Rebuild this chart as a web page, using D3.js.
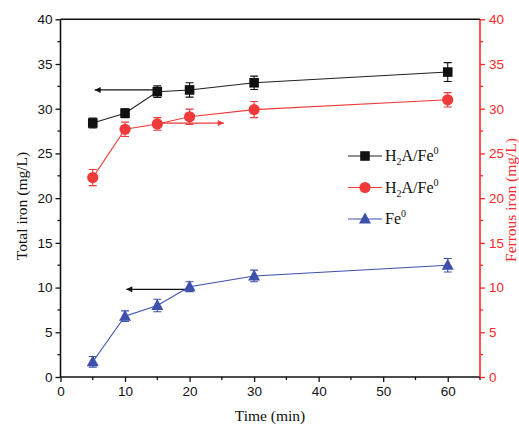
<!DOCTYPE html>
<html><head><meta charset="utf-8">
<script src="https://cdn.jsdelivr.net/npm/d3@7"></script>
<style>
  body { margin: 0; background: #fff; }
  svg { display: block; }
</style>
</head><body>
<svg id="chart" width="519" height="428"></svg>
<script>
// Sampling times (min)
const times = [5, 10, 15, 20, 30, 60];
// Total iron with H2A/Fe0 (left axis)
const totalH2A = [28.4, 29.5, 31.9, 32.1, 32.9, 34.1];
const totalH2AErr = [0.55, 0.5, 0.65, 0.8, 0.75, 1.05];
// Ferrous iron with H2A/Fe0 (right axis)
const ferrousH2A = [22.3, 27.7, 28.3, 29.1, 29.9, 31.0];
const ferrousH2AErr = [0.9, 0.8, 0.7, 0.85, 0.9, 0.8];
// Total iron with Fe0 alone (left axis)
const totalFe0 = [1.7, 6.8, 8.0, 10.1, 11.3, 12.5];
const totalFe0Err = [0.6, 0.6, 0.7, 0.55, 0.65, 0.75];

const xTicks = [0, 10, 20, 30, 40, 50, 60];
const xMinorTicks = [5, 15, 25, 35, 45, 55, 65];
const yTicks = [0, 5, 10, 15, 20, 25, 30, 35, 40];
const yMinorTicks = [2.5, 7.5, 12.5, 17.5, 22.5, 27.5, 32.5, 37.5];

// Arrows pointing each curve to its axis
const arrows = [
  { from: 15, to: 5.3, y: 32.1, color: "#111" },
  { from: 15.6, to: 25.3, y: 28.4, color: "#f03a3a" },
  { from: 20, to: 10.2, y: 9.8, color: "#111" }
];

const BLACK = "#111", RED = "#f03a3a", BLUE = "#3d50ac", AXRED = "#ff2a2a";

const svg = d3.select("#chart");
const x = d3.scaleLinear().domain([0, 65]).range([60.5, 480]);
const yL = d3.scaleLinear().domain([0, 40]).range([377, 19.3]);
const yR = d3.scaleLinear().domain([0, 40]).range([377, 19.3]);

const sans = "'Liberation Sans', Arial, sans-serif";
const serif = "'Liberation Serif', 'Times New Roman', serif";

// Arrow markers
const defs = svg.append("defs");
[["arrBlack", BLACK], ["arrRed", RED]].forEach(([id, c]) => {
  defs.append("marker").attr("id", id)
    .attr("viewBox", "0 0 10 10").attr("refX", 10).attr("refY", 5)
    .attr("markerWidth", 8).attr("markerHeight", 6).attr("markerUnits", "userSpaceOnUse")
    .attr("orient", "auto")
    .append("path").attr("d", "M0,0L10,5L0,10Z").attr("fill", c);
});

// Bottom axis
const gx = svg.append("g").attr("transform", `translate(0,${yL(0)})`)
  .call(d3.axisBottom(x).tickValues(xTicks).tickSize(5).tickPadding(4).tickFormat(d3.format("d")));
gx.append("g").selectAll("line").data(xMinorTicks).join("line")
  .attr("x1", d => x(d)).attr("x2", d => x(d)).attr("y1", 0).attr("y2", 3)
  .attr("stroke", BLACK).attr("stroke-width", 1.3);

// Left axis
const gyL = svg.append("g").attr("transform", `translate(${x(0)},0)`)
  .call(d3.axisLeft(yL).tickValues(yTicks).tickSize(5).tickPadding(3).tickFormat(d3.format("d")));
gyL.append("g").selectAll("line").data(yMinorTicks).join("line")
  .attr("y1", d => yL(d)).attr("y2", d => yL(d)).attr("x1", 0).attr("x2", -3)
  .attr("stroke", BLACK).attr("stroke-width", 1.3);

// Right axis (ferrous iron)
const gyR = svg.append("g").attr("transform", `translate(${x(65)},0)`)
  .call(d3.axisRight(yR).tickValues(yTicks).tickSize(5).tickPadding(4).tickFormat(d3.format("d")));
gyR.append("g").selectAll("line").data(yMinorTicks).join("line")
  .attr("y1", d => yR(d)).attr("y2", d => yR(d)).attr("x1", 0).attr("x2", 3)
  .attr("stroke", AXRED).attr("stroke-width", 1.3);

[gx, gyL].forEach(g => {
  g.select(".domain").attr("stroke", BLACK).attr("stroke-width", 1.6);
  g.selectAll(".tick line").attr("stroke", BLACK).attr("stroke-width", 1.3);
  g.selectAll("text").attr("font-family", sans).attr("font-size", 13.5).attr("fill", "#111");
});
gyR.select(".domain").attr("stroke", AXRED).attr("stroke-width", 1.6);
gyR.selectAll(".tick line").attr("stroke", AXRED).attr("stroke-width", 1.3);
gyR.selectAll("text").attr("font-family", sans).attr("font-size", 13.5).attr("fill", AXRED);
gx.select(".domain").attr("d", `M${x(0)},0H${x(65)}`);
gyL.select(".domain").attr("d", `M0,${yL(0)}V${yL(40)}`);
gyR.select(".domain").attr("d", `M0,${yR(0)}V${yR(40)}`);

// Top frame line
svg.append("line").attr("x1", x(0)).attr("x2", x(65)).attr("y1", yL(40)).attr("y2", yL(40))
  .attr("stroke", BLACK).attr("stroke-width", 1.6);

// Axis titles
svg.append("text").attr("x", 270).attr("y", 421).attr("text-anchor", "middle")
  .attr("font-family", serif).attr("font-size", 15.5).attr("fill", "#111").text("Time (min)");
svg.append("text").attr("transform", "translate(27,206) rotate(-90)").attr("text-anchor", "middle")
  .attr("font-family", serif).attr("font-size", 15.5).attr("fill", "#111").text("Total iron (mg/L)");
svg.append("text").attr("transform", "translate(516,200) rotate(-90)").attr("text-anchor", "middle")
  .attr("font-family", serif).attr("font-size", 15.5).attr("fill", AXRED).text("Ferrous iron (mg/L)");

// Series
const series = [
  { vals: totalH2A, err: totalH2AErr, y: yL, color: BLACK, lineColor: "#222", shape: "square" },
  { vals: ferrousH2A, err: ferrousH2AErr, y: yR, color: RED, lineColor: RED, shape: "circle" },
  { vals: totalFe0, err: totalFe0Err, y: yL, color: BLUE, lineColor: BLUE, shape: "triangle" }
];

function drawMarker(g, shape, cx, cy, color) {
  if (shape === "square") {
    g.append("rect").attr("x", cx - 4.8).attr("y", cy - 4.8).attr("width", 9.6).attr("height", 9.6).attr("fill", color);
  } else if (shape === "circle") {
    g.append("circle").attr("cx", cx).attr("cy", cy).attr("r", 5.6).attr("fill", color);
  } else {
    g.append("path").attr("d", `M${cx},${cy - 6.5}L${cx + 6},${cy + 4.5}L${cx - 6},${cy + 4.5}Z`).attr("fill", color);
  }
}

// Arrows drawn beneath markers
arrows.forEach(a => {
  svg.append("line")
    .attr("x1", x(a.from)).attr("x2", x(a.to)).attr("y1", yL(a.y)).attr("y2", yL(a.y))
    .attr("stroke", a.color).attr("stroke-width", 1.3)
    .attr("marker-end", a.color === RED ? "url(#arrRed)" : "url(#arrBlack)");
});

series.forEach(s => {
  const g = svg.append("g");
  const pts = times.map((t, i) => [x(t), s.y(s.vals[i])]);
  g.append("path").attr("d", d3.line()(pts)).attr("fill", "none")
    .attr("stroke", s.lineColor).attr("stroke-width", 1.1);
  times.forEach((t, i) => {
    const cx = x(t), top = s.y(s.vals[i] + s.err[i]), bot = s.y(s.vals[i] - s.err[i]);
    g.append("path").attr("d", `M${cx},${top}V${bot}M${cx - 4},${top}H${cx + 4}M${cx - 4},${bot}H${cx + 4}`)
      .attr("stroke", s.color).attr("stroke-width", 1.1).attr("fill", "none");
    drawMarker(g, s.shape, cx, s.y(s.vals[i]), s.color);
  });
});

// Legend
const legendRows = [
  { shape: "square", color: BLACK, lineColor: "#222", label: "H2A" },
  { shape: "circle", color: RED, lineColor: RED, label: "H2A" },
  { shape: "triangle", color: BLUE, lineColor: BLUE, label: "Fe" }
];
legendRows.forEach((r, i) => {
  const cy = 156 + i * 31.5;
  const g = svg.append("g");
  g.append("line").attr("x1", 348).attr("x2", 382).attr("y1", cy).attr("y2", cy)
    .attr("stroke", r.lineColor).attr("stroke-width", 1.1);
  drawMarker(g, r.shape, 365, cy, r.color);
  const t = g.append("text").attr("x", 385).attr("y", cy + 5)
    .attr("font-family", serif).attr("font-size", 16).attr("fill", "#111");
  if (r.label === "H2A") {
    t.append("tspan").text("H");
    t.append("tspan").attr("font-size", 10).attr("dy", 4).text("2");
    t.append("tspan").attr("dy", -4).text("A/Fe");
  } else {
    t.append("tspan").text("Fe");
  }
  t.append("tspan").attr("font-size", 10).attr("dy", -7).text("0");
});
</script>
</body></html>
